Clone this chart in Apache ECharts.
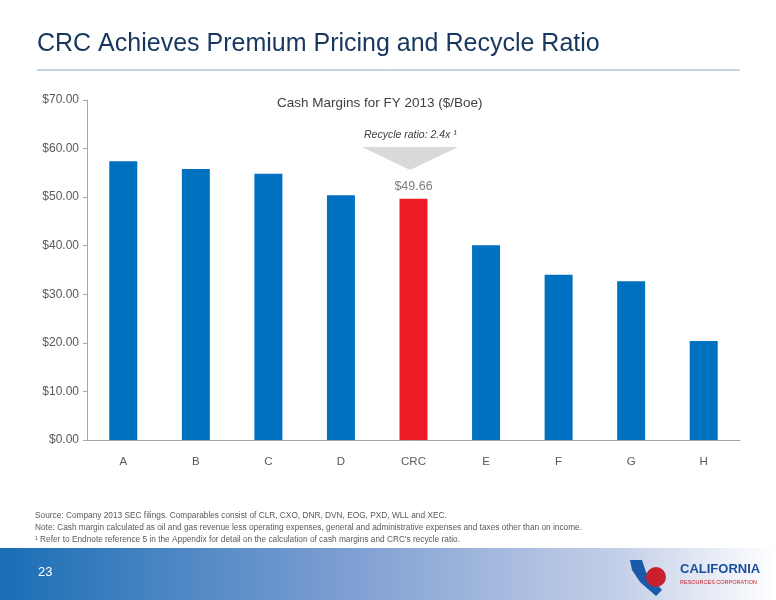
<!DOCTYPE html>
<html>
<head>
<meta charset="utf-8">
<script src="https://cdn.jsdelivr.net/npm/echarts@6/dist/echarts.min.js"></script>
<style>body{margin:0}#main{width:776px;height:600px}</style>
</head>
<body>
<div id="main"></div>
<script>
// 数据
var categories = ['A', 'B', 'C', 'D', 'CRC', 'E', 'F', 'G', 'H'];
var margins = [57.4, 55.8, 54.8, 50.4, 49.66, 40.1, 34.0, 32.7, 20.4];
var highlight = 'CRC';

var chart = echarts.init(document.getElementById('main'));

var option = {
  backgroundColor: '#ffffff',
  textStyle: { fontFamily: 'Liberation Sans' },
  title: {
    text: 'Cash Margins for FY 2013 ($/Boe)',
    left: 272, top: 91,
    textStyle: { fontSize: 13.5, fontWeight: 'normal', color: '#404040' }
  },
  grid: { left: 87, right: 36, top: 100, bottom: 160 },
  xAxis: {
    type: 'category',
    data: categories,
    axisLine: { lineStyle: { color: '#a6a6a6' } },
    axisTick: { show: false },
    axisLabel: { color: '#595959', fontSize: 11.5, margin: 16 }
  },
  yAxis: {
    type: 'value',
    min: 0, max: 70, interval: 10,
    splitLine: { show: false },
    axisLine: { show: true, lineStyle: { color: '#a6a6a6' } },
    axisTick: { show: true, length: 4 },
    axisLabel: {
      color: '#595959', fontSize: 12,
      formatter: function (v) { return '$' + v.toFixed(2); }
    }
  },
  series: [{
    type: 'bar',
    barWidth: 28,
    data: margins.map(function (v, i) {
      return {
        value: v,
        itemStyle: { color: categories[i] === highlight ? '#ed1c24' : '#0070c0' },
        label: categories[i] === highlight ? {
          show: true, position: 'top', distance: 6, color: '#7f7f7f', fontSize: 12.5,
          formatter: function (p) { return '$' + p.value.toFixed(2); }
        } : { show: false }
      };
    })
  }],
  graphic: [
    { type: 'text', left: 37, top: 32,
      style: { text: 'CRC Achieves Premium Pricing and Recycle Ratio', fontSize: 25, fill: '#17375e', fontFamily: 'Liberation Sans' } },
    { type: 'line', shape: { x1: 37, y1: 70, x2: 740, y2: 70 }, style: { stroke: '#8ea9c8', lineWidth: 1 } },
    { type: 'text', left: 364, top: 130,
      style: { text: 'Recycle ratio: 2.4x ¹', fontSize: 10.5, fontStyle: 'italic', fill: '#404040', fontFamily: 'Liberation Sans' } },
    { type: 'polygon', shape: { points: [[362, 147], [458, 147], [410, 170]] }, style: { fill: '#d9d9d9' } },
    { type: 'text', left: 35, top: 510,
      style: { text: 'Source: Company 2013 SEC filings. Comparables consist of CLR, CXO, DNR, DVN, EOG, PXD, WLL and XEC.\nNote: Cash margin calculated as oil and gas revenue less operating expenses, general and administrative expenses and taxes other than on income.\n¹ Refer to Endnote reference 5 in the Appendix for detail on the calculation of cash margins and CRC\'s recycle ratio.',
        fontSize: 8.3, lineHeight: 12, fill: '#595959', fontFamily: 'Liberation Sans' } },
    { type: 'rect', shape: { x: 0, y: 548, width: 776, height: 52 },
      style: { fill: new echarts.graphic.LinearGradient(0, 0, 1, 0, [
        { offset: 0, color: '#1a6eb5' }, { offset: 0.45, color: '#7e9fd2' },
        { offset: 0.8, color: '#c4cfe8' }, { offset: 1, color: '#ffffff' }]) } },
    { type: 'text', left: 38, top: 566, style: { text: '23', fontSize: 13, fill: '#ffffff', fontFamily: 'Liberation Sans' } },
    { type: 'text', left: 680, top: 563, style: { text: 'CALIFORNIA', fontSize: 13, fontWeight: 'bold', fill: '#1a4f9c', fontFamily: 'Liberation Sans' } },
    { type: 'text', left: 680, top: 579, style: { text: 'RESOURCES CORPORATION', fontSize: 5.5, fill: '#c8202f', fontFamily: 'Liberation Sans' } },
    { type: 'polygon', shape: { points: [[630, 560], [642, 560], [646, 572], [662, 590], [656, 596], [640, 582], [632, 570]] }, style: { fill: '#1a5aa8' } },
    { type: 'circle', shape: { cx: 656, cy: 577, r: 10 }, style: { fill: '#c8202f' } }
  ]
};

chart.setOption(option);
</script>
</body>
</html>
